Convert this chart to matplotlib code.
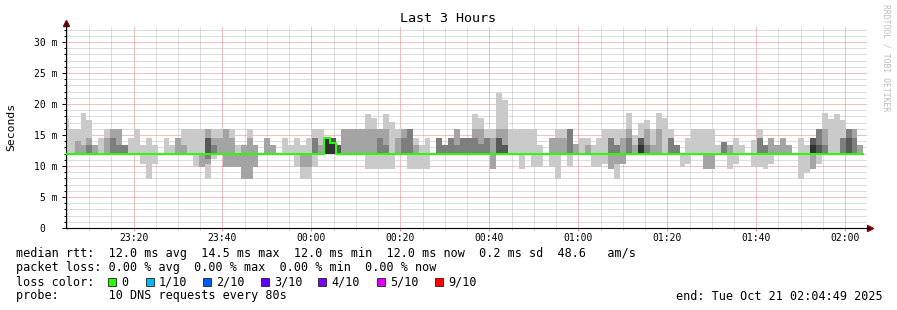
import numpy as np
import matplotlib.pyplot as plt
from matplotlib.patches import Rectangle

plt.rcParams['font.family'] = ['DejaVu Sans Mono', 'DejaVu Sans']

W, H = 897, 310

# time in minutes after 23:00
t_start = 4 + 49 / 60        # 23:04:49
t_end = t_start + 180        # 02:04:49
bin0 = 4 + 5 / 60            # first 80 s step starts 23:04:05
step = 80 / 60

# median rtt per step (ms)
median = [
    12.0, 12.0, 12.0, 12.0, 12.0, 12.0, 12.0, 12.0, 12.0, 12.0, 12.0, 12.0, 12.0, 12.0, 12.0,
    12.0, 12.0, 12.0, 12.0, 12.0, 12.0, 12.0, 12.0, 12.0, 12.0, 12.0, 12.0, 12.0, 12.0, 12.0,
    12.0, 12.0, 12.0, 12.0, 12.0, 12.0, 12.0, 12.0, 12.0, 12.0, 12.0, 12.0, 12.0, 12.0, 14.5,
    13.7, 12.0, 12.0, 12.0, 12.0, 12.0, 12.0, 12.0, 12.0, 12.0, 12.0, 12.0, 12.0, 12.0, 12.0,
    12.0, 12.0, 12.0, 12.0, 12.0, 12.0, 12.0, 12.0, 12.0, 12.0, 12.0, 12.0, 12.0, 12.0, 12.0,
    12.0, 12.0, 12.0, 12.0, 12.0, 12.0, 12.0, 12.0, 12.0, 12.0, 12.0, 12.0, 12.0, 12.0, 12.0,
    12.0, 12.0, 12.0, 12.0, 12.0, 12.0, 12.0, 12.0, 12.0, 12.0, 12.0, 12.0, 12.0, 12.0, 12.0,
    12.0, 12.0, 12.0, 12.0, 12.0, 12.0, 12.0, 12.0, 12.0, 12.0, 12.0, 12.0, 12.0, 12.0, 12.0,
    12.0, 12.0, 12.0, 12.0, 12.0, 12.0, 12.0, 12.0, 12.0, 12.0, 12.0, 12.0, 12.0, 12.0, 12.0,
]

# the 10 sorted ping times of every step (ms)
pings = [
    [12, 12, 12, 12, 12, 12, 12, 12, 12, 17.6],
    [12, 12, 12, 12, 12, 12, 12, 12, 12, 16.0],
    [12, 12, 12, 12, 12, 12, 12, 12, 14.0, 16.0],
    [12, 12, 12, 12, 12, 12, 12, 12, 13.4, 18.5],
    [12, 12, 12, 12, 12, 12, 12, 13.4, 14.5, 17.4],
    [12, 12, 12, 12, 12, 12, 12, 12, 13.4, 13.4],
    [12, 12, 12, 12, 12, 12, 12, 12, 12, 14.5],
    [12, 12, 12, 12, 12, 12, 12, 12, 14.5, 16.0],
    [12, 12, 12, 12, 12, 12, 12, 14.5, 16.0, 16.0],
    [12, 12, 12, 12, 12, 12, 12, 13.4, 16.0, 16.0],
    [12, 12, 12, 12, 12, 12, 12, 13.4, 13.4, 13.4],
    [12, 12, 12, 12, 12, 12, 12, 12, 12, 14.5],
    [12, 12, 12, 12, 12, 12, 12, 12, 12, 16.0],
    [10.3, 12, 12, 12, 12, 12, 12, 12, 12, 13.4],
    [7.9, 12, 12, 12, 12, 12, 12, 12, 12, 14.5],
    [10.3, 12, 12, 12, 12, 12, 12, 12, 12, 13.4],
    [12, 12, 12, 12, 12, 12, 12, 12, 12, 12],
    [12, 12, 12, 12, 12, 12, 12, 12, 12, 14.5],
    [12, 12, 12, 12, 12, 12, 12, 12, 12, 13.4],
    [12, 12, 12, 12, 12, 12, 12, 12, 14.5, 14.5],
    [12, 12, 12, 12, 12, 12, 12, 12, 13.4, 16.0],
    [12, 12, 12, 12, 12, 12, 12, 12, 12, 16.0],
    [10.0, 12, 12, 12, 12, 12, 12, 12, 12, 16.0],
    [9.9, 9.9, 12, 12, 12, 12, 12, 12, 12, 16.0],
    [7.9, 10.3, 11.1, 12, 12, 12, 14.5, 14.5, 16.0, 16.0],
    [11.1, 12, 12, 12, 12, 12, 12, 13.4, 14.5, 16.0],
    [12, 12, 12, 12, 12, 12, 12, 12, 14.5, 16.0],
    [9.9, 9.9, 12, 12, 12, 12, 12, 12, 16.0, 16.0],
    [9.9, 9.9, 12, 12, 12, 12, 12, 12, 14.5, 16.0],
    [9.9, 9.9, 12, 12, 12, 12, 12, 12, 12, 13.4],
    [7.9, 7.9, 12, 12, 12, 12, 12, 12, 13.4, 13.4],
    [7.9, 7.9, 12, 12, 12, 12, 12, 12, 14.5, 16.0],
    [9.9, 9.9, 12, 12, 12, 12, 12, 12, 13.4, 13.4],
    [12, 12, 12, 12, 12, 12, 12, 12, 12, 12],
    [12, 12, 12, 12, 12, 12, 12, 12, 14.5, 14.5],
    [12, 12, 12, 12, 12, 12, 12, 12, 13.4, 13.4],
    [12, 12, 12, 12, 12, 12, 12, 12, 12, 12],
    [12, 12, 12, 12, 12, 12, 12, 12, 12, 14.5],
    [12, 12, 12, 12, 12, 12, 12, 12, 12, 13.4],
    [9.9, 12, 12, 12, 12, 12, 12, 12, 12, 14.5],
    [7.9, 9.9, 12, 12, 12, 12, 12, 12, 12, 13.4],
    [7.9, 9.9, 12, 12, 12, 12, 12, 12, 12, 14.5],
    [9.9, 12, 12, 12, 12, 12, 12, 14.5, 14.5, 16.0],
    [12, 12, 12, 12, 12, 12, 12, 12, 13.4, 16.0],
    [12, 12, 12, 12, 12, 14.5, 14.5, 14.5, 14.5, 14.5],
    [12, 12, 12, 12, 12, 13.7, 14.5, 14.5, 14.5, 14.5],
    [12, 12, 12, 12, 12, 12, 13.4, 13.4, 13.4, 13.4],
    [12, 12, 12, 12, 12, 12, 12, 12, 16.0, 16.0],
    [12, 12, 12, 12, 12, 12, 12, 12, 16.0, 16.0],
    [12, 12, 12, 12, 12, 12, 12, 12, 16.0, 16.0],
    [12, 12, 12, 12, 12, 12, 12, 12, 16.0, 16.0],
    [9.5, 12, 12, 12, 12, 12, 12, 12, 16.0, 18.4],
    [9.5, 12, 12, 12, 12, 12, 12, 12, 16.0, 17.7],
    [9.5, 12, 12, 12, 12, 12, 12, 14.5, 16.0, 16.0],
    [9.5, 12, 12, 12, 12, 12, 12, 13.4, 16.0, 18.4],
    [9.5, 12, 12, 12, 12, 12, 12, 12, 12, 17.1],
    [12, 12, 12, 12, 12, 12, 12, 12, 14.5, 16.0],
    [12, 12, 12, 12, 12, 12, 12, 14.5, 16.0, 16.0],
    [9.5, 12, 12, 12, 12, 12, 12, 16.0, 16.0, 16.0],
    [9.5, 12, 12, 12, 12, 12, 12, 12, 13.4, 14.5],
    [9.5, 12, 12, 12, 12, 12, 12, 12, 12, 13.4],
    [9.5, 12, 12, 12, 12, 12, 12, 12, 12, 14.5],
    [12, 12, 12, 12, 12, 12, 12, 12, 12, 12],
    [12, 12, 12, 12, 12, 12, 12, 14.5, 14.5, 14.5],
    [12, 12, 12, 12, 12, 12, 12, 13.4, 13.4, 13.4],
    [12, 12, 12, 12, 12, 12, 12, 14.5, 14.5, 14.5],
    [12, 12, 12, 12, 12, 12, 12, 13.4, 16.0, 16.0],
    [12, 12, 12, 12, 12, 12, 12, 14.5, 14.5, 14.5],
    [12, 12, 12, 12, 12, 12, 12, 14.5, 14.5, 14.5],
    [12, 12, 12, 12, 12, 12, 12, 14.5, 16.0, 18.4],
    [12, 12, 12, 12, 12, 12, 12, 13.6, 16.0, 17.7],
    [12, 12, 12, 12, 12, 12, 12, 14.5, 14.5, 16.0],
    [9.5, 9.5, 12, 12, 12, 12, 12, 12, 14.5, 16.0],
    [12, 12, 12, 12, 12, 12, 14.5, 14.5, 16.0, 21.8],
    [12, 12, 12, 12, 12, 12, 13.4, 13.4, 16.0, 20.7],
    [12, 12, 12, 12, 12, 12, 12, 12, 12, 16.0],
    [12, 12, 12, 12, 12, 12, 12, 12, 12, 16.0],
    [9.5, 12, 12, 12, 12, 12, 12, 12, 12, 16.0],
    [12, 12, 12, 12, 12, 12, 12, 12, 12, 16.0],
    [9.9, 12, 12, 12, 12, 12, 12, 12, 12, 16.0],
    [9.9, 12, 12, 12, 12, 12, 12, 12, 12, 13.4],
    [12, 12, 12, 12, 12, 12, 12, 12, 12, 12],
    [9.9, 12, 12, 12, 12, 12, 12, 12, 14.5, 14.5],
    [7.9, 12, 12, 12, 12, 12, 12, 12, 14.5, 16.0],
    [12, 12, 12, 12, 12, 12, 12, 12, 14.5, 16.0],
    [9.9, 12, 12, 12, 12, 12, 12, 16.0, 16.0, 16.0],
    [12, 12, 12, 12, 12, 12, 12, 12, 13.6, 13.6],
    [12, 12, 12, 12, 12, 12, 12, 12, 12, 14.5],
    [12, 12, 12, 12, 12, 12, 12, 12, 13.4, 14.5],
    [9.9, 12, 12, 12, 12, 12, 12, 12, 12, 13.4],
    [9.9, 12, 12, 12, 12, 12, 12, 12, 12, 14.5],
    [10.3, 12, 12, 12, 12, 12, 12, 12, 12, 16.0],
    [9.5, 9.5, 12, 12, 12, 12, 12, 14.5, 14.5, 16.0],
    [7.9, 10.3, 12, 12, 12, 12, 12, 13.4, 13.4, 16.0],
    [10.3, 10.3, 12, 12, 12, 12, 12, 12, 14.5, 16.0],
    [12, 12, 12, 12, 12, 12, 12, 14.5, 16.0, 18.5],
    [12, 12, 12, 12, 12, 12, 12, 12, 13.4, 15.0],
    [12, 12, 12, 12, 12, 13.4, 14.5, 14.5, 14.5, 16.9],
    [12, 12, 12, 12, 12, 12, 12, 13.4, 16.0, 17.4],
    [12, 12, 12, 12, 12, 12, 12, 12, 13.4, 16.0],
    [12, 12, 12, 12, 12, 12, 12, 12, 16.0, 18.5],
    [12, 12, 12, 12, 12, 12, 12, 12, 12, 17.7],
    [12, 12, 12, 12, 12, 12, 12, 14.5, 14.5, 16.0],
    [12, 12, 12, 12, 12, 12, 12, 13.4, 13.4, 13.4],
    [9.9, 12, 12, 12, 12, 12, 12, 12, 12, 12],
    [10.3, 12, 12, 12, 12, 12, 12, 12, 12, 14.5],
    [12, 12, 12, 12, 12, 12, 12, 12, 12, 16.0],
    [12, 12, 12, 12, 12, 12, 12, 12, 12, 16.0],
    [9.5, 9.5, 12, 12, 12, 12, 12, 12, 12, 16.0],
    [9.5, 9.5, 12, 12, 12, 12, 12, 12, 12, 16.0],
    [12, 12, 12, 12, 12, 12, 12, 12, 12, 13.4],
    [12, 12, 12, 12, 12, 12, 12, 13.9, 13.9, 13.9],
    [9.5, 12, 12, 12, 12, 12, 12, 12, 13.4, 13.4],
    [10.3, 12, 12, 12, 12, 12, 12, 12, 12, 14.5],
    [12, 12, 12, 12, 12, 12, 12, 12, 12, 13.4],
    [12, 12, 12, 12, 12, 12, 12, 12, 12, 12],
    [9.9, 12, 12, 12, 12, 12, 12, 12, 12, 14.2],
    [9.9, 12, 12, 12, 12, 12, 12, 14.5, 14.5, 16.0],
    [9.5, 12, 12, 12, 12, 12, 12, 13.4, 13.4, 13.4],
    [10.3, 12, 12, 12, 12, 12, 12, 12, 14.5, 14.5],
    [12, 12, 12, 12, 12, 12, 12, 12, 13.4, 13.4],
    [12, 12, 12, 12, 12, 12, 12, 12, 14.5, 14.5],
    [12, 12, 12, 12, 12, 12, 12, 12, 13.4, 13.4],
    [12, 12, 12, 12, 12, 12, 12, 12, 12, 12],
    [7.9, 12, 12, 12, 12, 12, 12, 12, 12, 14.5],
    [8.9, 12, 12, 12, 12, 12, 12, 12, 12, 13.4],
    [9.5, 9.5, 12, 12, 12, 13.4, 14.5, 14.5, 14.5, 14.5],
    [10.3, 12, 12, 12, 12, 12, 13.4, 16.0, 16.0, 16.0],
    [12, 12, 12, 12, 12, 12, 12, 13.4, 16.0, 18.5],
    [12, 12, 12, 12, 12, 12, 12, 12, 12, 17.6],
    [12, 12, 12, 12, 12, 12, 12, 12, 12, 18.4],
    [12, 12, 12, 12, 12, 12, 12, 14.5, 14.5, 17.4],
    [12, 12, 12, 12, 12, 12, 14.5, 16.0, 16.0, 16.0],
    [12, 12, 12, 12, 12, 12, 12, 14.5, 16.0, 16.0],
    [12, 12, 12, 12, 12, 12, 12, 12, 13.4, 13.4],
]

xtick_pos = [20, 40, 60, 80, 100, 120, 140, 160, 180]
xtick_labels = ['23:20', '23:40', '00:00', '00:20', '00:40', '01:00', '01:20', '01:40', '02:00']
ytick_pos = [0, 5, 10, 15, 20, 25, 30]
ytick_labels = ['0  ', '5 m', '10 m', '15 m', '20 m', '25 m', '30 m']

median_stats = [12.0, 14.5, 12.0, 12.0]   # avg max min now (ms)
median_sd = 0.2
median_ams = 48.6
loss_stats = [0.00, 0.00, 0.00, 0.00]     # avg max min now (%)

loss_labels = ['0', '1/10', '2/10', '3/10', '4/10', '5/10', '9/10']
loss_colors = ['#26ff00', '#00b8ff', '#0059ff', '#5e00ff', '#7e00ff', '#dd00ff', '#ff0000']

smoke_shades = ['#cacaca', '#a4a4a4', '#7e7e7e', '#585858', '#323232']

# pixel helpers for figure placement
def fx(x):
    return x / W

def fy(y):
    return 1 - y / H

fig = plt.figure(figsize=(W / 100, H / 100), dpi=100)
px_per_min = 4.448
px_per_ms = 6.2
y_top = 32.6
ax = fig.add_axes([fx(66), fy(228), 180 * px_per_min / W, y_top * px_per_ms / H])

P = np.array(pings, dtype=float)
n = len(P)
edges = bin0 + step * np.arange(n + 1)
for i, shade in enumerate(smoke_shades):
    lo = np.append(P[:, i], P[-1, i])
    hi = np.append(P[:, 9 - i], P[-1, 9 - i])
    ax.fill_between(edges, lo, hi, step='post', color=shade, lw=0, antialiased=False, zorder=2)

med = np.append(median, median[-1])
ax.step(edges, med, where='post', color=loss_colors[0], lw=1.44, zorder=3)

ax.set_xlim(t_start, t_end)
ax.set_ylim(0, y_top)

ax.set_xticks(xtick_pos, xtick_labels)
ax.set_xticks(np.arange(5, 185, 5), minor=True)
ax.set_yticks(ytick_pos, ytick_labels)
ax.set_yticks(np.arange(1, 33, 1), minor=True)

# dotted rrdtool style grid
ax.grid(which='minor', color='#bcbcbc', lw=0.72, ls=(0, (1, 1)), zorder=0)
ax.grid(which='major', color='#ec8080', lw=0.72, ls=(0, (1, 1)), zorder=1)
ax.set_axisbelow(True)

ax.tick_params(which='both', labelsize=7, colors='#000000', width=0.72)
ax.tick_params(axis='y', which='major', length=3, pad=3)
ax.tick_params(axis='y', which='minor', length=1.5)
ax.tick_params(axis='x', which='major', length=2, pad=1.5, color='#f09090')
ax.tick_params(axis='x', which='minor', length=1.5, color='#c0c0c0')

for s in ['top', 'right']:
    ax.spines[s].set_visible(False)
ax.spines['left'].set_linewidth(0.8)
ax.spines['bottom'].set_linewidth(0.8)
ax.spines['left'].set_bounds(0, (228 - 23) / px_per_ms)
ax.spines['bottom'].set_bounds(t_start, t_start + (869 - 66) / px_per_min)
ax.plot([fx(66)], [fy(23)], marker='^', ms=4, color='#7f0000', transform=fig.transFigure, clip_on=False)
ax.plot([fx(870)], [fy(228)], marker='>', ms=4, color='#7f0000', transform=fig.transFigure, clip_on=False)

fig.text(fx(11), fy(127), 'Seconds', rotation=90, ha='center', va='center', fontsize=8.2)
fig.text(fx(448), fy(19), 'Last 3 Hours', ha='center', va='center', fontsize=9.6)
fig.text(fx(886), fy(4), 'RRDTOOL / TOBI OETIKER', rotation=-90, ha='center', va='top',
         fontsize=5.8, color='#bdbdbd')

fs = 8.5
line1 = ('median rtt:  %.1f ms avg  %.1f ms max  %.1f ms min  %.1f ms now  %.1f ms sd  %.1f   am/s'
         % (*median_stats, median_sd, median_ams))
line2 = 'packet loss: %.2f %% avg  %.2f %% max  %.2f %% min  %.2f %% now' % tuple(loss_stats)
fig.text(fx(16), fy(254), line1, ha='left', va='center', fontsize=fs)
fig.text(fx(16), fy(268), line2, ha='left', va='center', fontsize=fs)
fig.text(fx(16), fy(282), 'loss color:', ha='left', va='center', fontsize=fs)
box_x = [108, 146, 203, 261, 318, 377, 435]
for bx, lab, col in zip(box_x, loss_labels, loss_colors):
    fig.add_artist(Rectangle((fx(bx), fy(286)), 8 / W, 8 / H, transform=fig.transFigure,
                             facecolor=col, edgecolor='#202020', lw=0.6))
    fig.text(fx(bx + 13), fy(282), lab, ha='left', va='center', fontsize=fs)
fig.text(fx(16), fy(296), 'probe:       10 DNS requests every 80s', ha='left', va='center', fontsize=fs)
fig.text(fx(883), fy(296), 'end: Tue Oct 21 02:04:49 2025', ha='right', va='center', fontsize=fs)

fig.savefig('out.png', dpi=100)
